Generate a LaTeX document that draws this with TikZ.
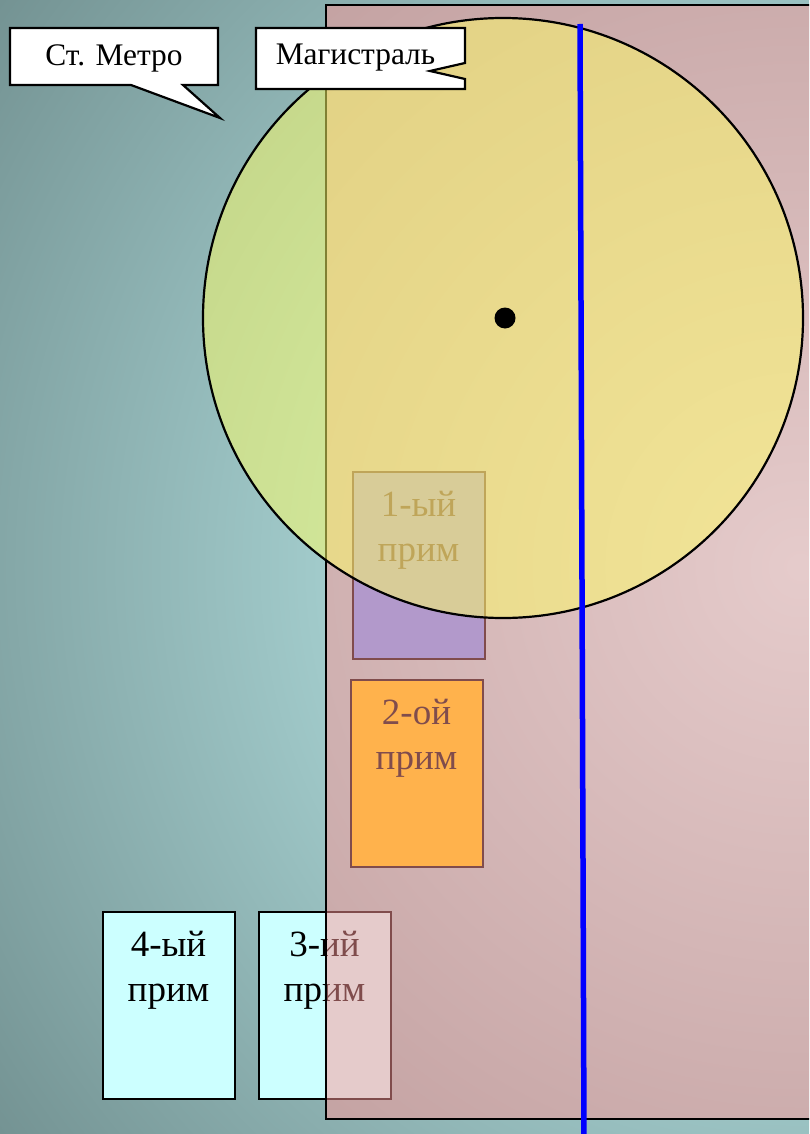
\documentclass[tikz,border=0pt]{standalone}
\usepackage{fontspec}
\setmainfont{Liberation Serif}
\usetikzlibrary{positioning}

\definecolor{bgcentre}{HTML}{CCFFFF}
\definecolor{bgedge}{HTML}{6B8888}
\definecolor{primA}{HTML}{6699FF}
\definecolor{primB}{HTML}{FFCC00}
\definecolor{primC}{HTML}{CCFFFF}
\definecolor{zonepink}{HTML}{FF9999}
\definecolor{zoneyellow}{HTML}{FFFF66}

\begin{document}
\begin{tikzpicture}[
  x=1pt, y=-1pt,
  prim/.style={draw=black, line width=2pt, minimum width=132pt, minimum height=187pt, inner sep=0pt},
  primtext/.style={font=\fontsize{37}{45}\selectfont, align=center, inner sep=0pt, text=black},
  callbox/.style={draw=black, line width=2.2pt, fill=white, line join=miter},
  calltext/.style={font=\fontsize{31.4}{37}\selectfont, inner sep=0pt, text=black},
]
  \useasboundingbox (0,0) rectangle (809,1134);
  \clip (0,0) rectangle (809,1134);

  % background
  \shade[inner color=bgcentre, outer color=bgedge] (800,567) circle (1080);

  % the four boxes go under the pink zone
  \node[prim, fill=primA] (p1) at (418.5,565.5) {};
  \node[prim, fill=primB] (p2) at (416.5,773) {};
  \node[prim, fill=primC] (p3) at (324.5,1005) {};
  \node[prim, fill=primC] (p4) at (168.5,1005) {};
  \node[primtext, below=20pt of p1.north] (t1) {1-ый\\прим};
  \node[primtext, below=20pt of p2.north] (t2) {2-ой\\прим};
  \node[primtext, below=20pt of p3.north] (t3) {3-ий\\прим};
  \node[primtext, below=20pt of p4.north] (t4) {4-ый\\прим};

  % pink zone and round zone
  \draw[line width=2.2pt, fill=zonepink, fill opacity=.5] (326,5) rectangle (830,1119);
  \node[circle, draw=black, line width=2.2pt, fill=zoneyellow, fill opacity=.5, minimum size=600pt, inner sep=0pt] (zone) at (503,318) {};
  \node[circle, fill=black, minimum size=21pt, inner sep=0pt] (centre) at (505,318) {};

  % line
  \coordinate (lineTop) at (580,24);
  \coordinate (lineBot) at (584,1140);
  \draw[blue, line width=5.5pt] (lineTop) -- (lineBot);

  % callouts
  \draw[callbox] (10,28) -- (218,28) -- (218,85) -- (183,85) -- (220,118) -- (131,85) -- (10,85) -- cycle;
  \node[calltext] (metro) at (114,58) {Ст. Метро};
  \draw[callbox] (256,28) -- (465,28) -- (465,63) -- (430,71) -- (465,79) -- (465,89) -- (256,89) -- cycle;
  \node[calltext] (road) at (355.5,58) {Магистраль};
\end{tikzpicture}
\end{document}
